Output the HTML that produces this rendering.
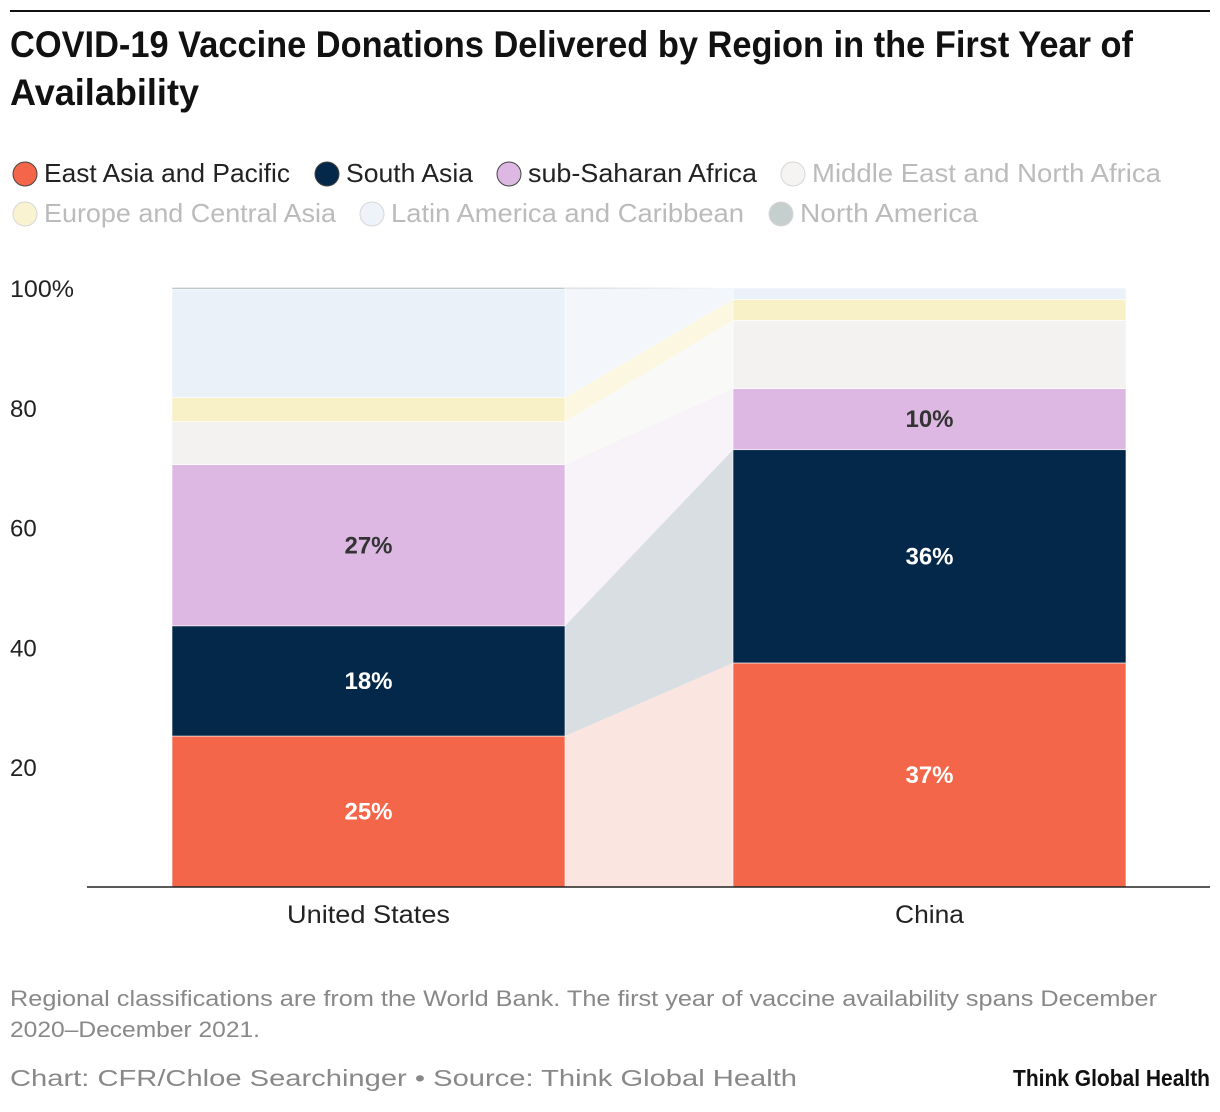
<!DOCTYPE html>
<html><head><meta charset="utf-8"><style>
body{margin:0;background:#fff;}
svg{display:block;font-family:"Liberation Sans",sans-serif;}
</style></head><body>
<svg id="chart" width="1220" height="1112" viewBox="0 0 1220 1112">
<line x1="10" y1="11" x2="1210" y2="11" stroke="#111" stroke-width="2"/>
<text x="10" y="57" font-size="37" font-weight="bold" fill="#111" textLength="1123" lengthAdjust="spacingAndGlyphs">COVID-19 Vaccine Donations Delivered by Region in the First Year of</text>
<text x="10" y="105" font-size="37" font-weight="bold" fill="#111" textLength="189" lengthAdjust="spacingAndGlyphs">Availability</text>
<g id="legend"></g>
<g id="axis"></g>
<g id="links"></g>
<g id="bars"></g>
<line x1="87" y1="887" x2="1210" y2="887" stroke="#222" stroke-width="1.5"/>
<text x="10" y="1006" font-size="22" fill="#888" textLength="1147" lengthAdjust="spacingAndGlyphs">Regional classifications are from the World Bank. The first year of vaccine availability spans December</text>
<text x="10" y="1037" font-size="22" fill="#888" textLength="250" lengthAdjust="spacingAndGlyphs">2020–December 2021.</text>
<text x="10" y="1086" font-size="23" fill="#888" textLength="787" lengthAdjust="spacingAndGlyphs">Chart: CFR/Chloe Searchinger • Source: Think Global Health</text>
<text x="1210" y="1086" font-size="23" font-weight="bold" fill="#111" text-anchor="end" textLength="197" lengthAdjust="spacingAndGlyphs">Think Global Health</text>
</svg>
<script>
const categories = ["United States", "China"];
const regions = ["East Asia and Pacific","South Asia","sub-Saharan Africa","Middle East and North Africa","Europe and Central Asia","Latin America and Caribbean","North America"];
const usValues = [25.2, 18.4, 26.9, 7.2, 4.0, 18.1, 0.3];
const chinaValues = [37.4, 35.6, 10.2, 11.4, 3.5, 1.9, 0];
const yTicks = [20, 40, 60, 80, 100];
const colors = ["#f4664a","#04284a","#dcb8e3","#f3f2f0","#f8f1c8","#eaf1f9","#b6c4c2"];
const pale = ["#fbe5e0","#d9dee3","#f8f2f9","#f9f9f8","#fbf7e1","#f3f7fc","#dfe5e4"];
const legendActive = [true,true,true,false,false,false,false];
const ns="http://www.w3.org/2000/svg";
function el(t,a,p){const e=document.createElementNS(ns,t);for(const k in a)e.setAttribute(k,a[k]);p.appendChild(e);return e;}
const y = v => 887 - v*5.99;
const barX = [172, 733], barW = 393;
const catW = [163, 69];
const series = [usValues, chinaValues];
const ax=document.getElementById('axis');
yTicks.forEach(t=>{const tx=el('text',{x:10,y:y(t)+9,'font-size':24,fill:'#222'},ax);
tx.textContent = t===100?'100%':t;
if(t===100){tx.setAttribute('textLength',64);tx.setAttribute('lengthAdjust','spacingAndGlyphs');}

});
const bg=document.getElementById('bars'), lg=document.getElementById('links');
const cum = series.map(vals=>{let c=0;return vals.map(v=>{const a=c;c+=v;return [a,c];});});
regions.forEach((r,i)=>{
  const a=cum[0][i], b=cum[1][i];
  const pg=el('polygon',{points:`${barX[0]+barW},${y(a[0])} ${barX[0]+barW},${y(a[1])} ${barX[1]},${y(b[1])} ${barX[1]},${y(b[0])}`,fill:pale[i]},lg);
  
  
});
series.forEach((vals,s)=>{
  vals.forEach((v,i)=>{
    const [a,b]=cum[s][i];
    if(v<=0)return;
    const rc=el('rect',{x:barX[s],y:y(b),width:barW,height:y(a)-y(b),fill:colors[i],stroke:'#fff','stroke-width':0.6},bg);
    
    
    if(i<3){
      const t=el('text',{x:barX[s]+barW/2,y:(y(a)+y(b))/2+8,'font-size':24,'font-weight':'bold','text-anchor':'middle',fill:i===2?'#333':'#fff'},bg);
      t.textContent=Math.round(v)+'%';
      
      
    }
  });
  const ct=el('text',{x:barX[s]+barW/2,y:923,'font-size':25,'text-anchor':'middle',fill:'#222',textLength:catW[s],lengthAdjust:'spacingAndGlyphs'},bg);
  ct.textContent=categories[s];
  
  
});
const lgd=document.getElementById('legend');
const pos=[[25,174],[327,174],[509,174],[793,174],[25,214],[372,214],[781,214]];
const legW=[246,127,229,349,292,353,178];
regions.forEach((r,i)=>{
  const g=el('g',{},lgd);
  
  
  el('circle',{cx:pos[i][0],cy:pos[i][1],r:12,fill:colors[i],stroke:legendActive[i]?'#444':'#ccc','stroke-width':1,opacity:legendActive[i]?1:0.8},g);
  const t=el('text',{x:pos[i][0]+19,y:pos[i][1]+8,'font-size':26,fill:legendActive[i]?'#222':'#bbb',textLength:legW[i],lengthAdjust:'spacingAndGlyphs'},g);
  t.textContent=r;
});
</script>
</body></html>
